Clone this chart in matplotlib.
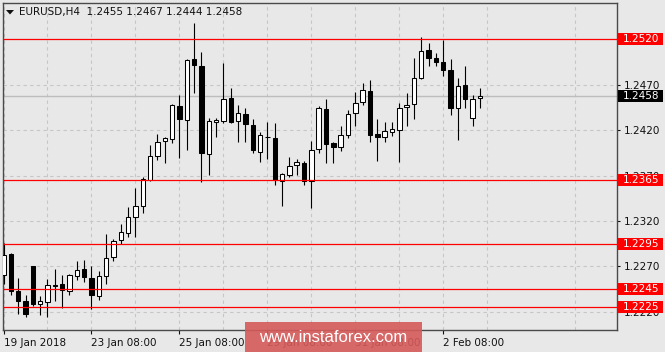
import matplotlib
matplotlib.use("Agg")
import matplotlib.pyplot as plt
import numpy as np
from matplotlib.patches import Rectangle, Polygon
from matplotlib.transforms import blended_transform_factory

# ---------------- data ----------------
symbol = "EURUSD,H4"
opens = [1.2261, 1.2284, 1.2243, 1.2232, 1.2270, 1.2229, 1.2231, 1.2250, 1.2251, 1.2243,
         1.2260, 1.2267, 1.2257, 1.2238, 1.2260, 1.2280, 1.2299, 1.2307, 1.2325, 1.2337,
         1.2365, 1.2392, 1.2408, 1.2410, 1.2447, 1.2431, 1.2498, 1.2491, 1.2394, 1.2429,
         1.2430, 1.2455, 1.2430, 1.2438, 1.2426, 1.2396, 1.2413, 1.2411, 1.2364, 1.2371,
         1.2382, 1.2384, 1.2364, 1.2399, 1.2443, 1.2406, 1.2401, 1.2415, 1.2439, 1.2451,
         1.2463, 1.2416, 1.2412, 1.2418, 1.2420, 1.2446, 1.2449, 1.2477, 1.2508, 1.2499,
         1.2495, 1.2486, 1.2444, 1.2470, 1.2434, 1.2455]
highs = [1.2296, 1.2285, 1.2257, 1.2239, 1.2271, 1.2238, 1.2256, 1.2267, 1.2261, 1.2262,
         1.2276, 1.2277, 1.2271, 1.2265, 1.2306, 1.2300, 1.2317, 1.2335, 1.2356, 1.2369,
         1.2404, 1.2416, 1.2412, 1.2449, 1.2459, 1.2498, 1.2538, 1.2506, 1.2433, 1.2433,
         1.2494, 1.2467, 1.2448, 1.2445, 1.2432, 1.2418, 1.2429, 1.2428, 1.2373, 1.2390,
         1.2388, 1.2386, 1.2408, 1.2447, 1.2454, 1.2407, 1.2425, 1.2442, 1.2462, 1.2472,
         1.2475, 1.2432, 1.2429, 1.2429, 1.2450, 1.2461, 1.2499, 1.2523, 1.2516, 1.2505,
         1.2519, 1.2498, 1.2477, 1.2491, 1.2459, 1.2467]
lows = [1.2251, 1.2239, 1.2218, 1.2214, 1.2226, 1.2217, 1.2214, 1.2232, 1.2224, 1.2239,
        1.2255, 1.2253, 1.2223, 1.2233, 1.2251, 1.2276, 1.2295, 1.2302, 1.2303, 1.2329,
        1.2364, 1.2387, 1.2384, 1.2406, 1.2389, 1.2398, 1.2461, 1.2363, 1.2371, 1.2412,
        1.2428, 1.2428, 1.2407, 1.2407, 1.2395, 1.2385, 1.2388, 1.2360, 1.2337, 1.2368,
        1.2371, 1.2360, 1.2334, 1.2395, 1.2384, 1.2384, 1.2397, 1.2411, 1.2425, 1.2448,
        1.2407, 1.2386, 1.2407, 1.2414, 1.2385, 1.2425, 1.2432, 1.2476, 1.2491, 1.2491,
        1.2480, 1.2437, 1.2409, 1.2445, 1.2425, 1.2444]
closes = [1.2283, 1.2243, 1.2232, 1.2218, 1.2229, 1.2232, 1.2250, 1.2249, 1.2244, 1.2261,
          1.2266, 1.2258, 1.2239, 1.2259, 1.2279, 1.2298, 1.2308, 1.2324, 1.2337, 1.2366,
          1.2392, 1.2407, 1.2411, 1.2448, 1.2432, 1.2497, 1.2492, 1.2395, 1.2430, 1.2431,
          1.2454, 1.2429, 1.2439, 1.2427, 1.2398, 1.2415, 1.2412, 1.2365, 1.2372, 1.2381,
          1.2385, 1.2364, 1.2398, 1.2444, 1.2405, 1.2402, 1.2415, 1.2438, 1.2450, 1.2464,
          1.2415, 1.2413, 1.2419, 1.2421, 1.2445, 1.2448, 1.2478, 1.2507, 1.2499, 1.2495,
          1.2486, 1.2444, 1.2469, 1.2454, 1.2454, 1.2458]

xtick_pos = [0, 12, 24, 36, 48, 60]
xtick_labels = ["19 Jan 2018", "23 Jan 08:00", "25 Jan 08:00",
                "29 Jan 08:00", "31 Jan 08:00", "2 Feb 08:00"]
ytick_vals = [1.2220, 1.2270, 1.2320, 1.2370, 1.2420, 1.2470, 1.2520]
levels = [1.2520, 1.2365, 1.2295, 1.2245, 1.2225]
last_price = 1.2458
watermark = "www.instaforex.com"

# ---------------- figure ----------------
W, H = 665, 352
BG = "#e8e8e8"
FONT = "DejaVu Sans"
plt.rcParams["font.family"] = FONT

fig = plt.figure(figsize=(W / 100, H / 100), dpi=100, facecolor=BG)
ax = fig.add_axes([3 / W, 1 - 330 / H, 614 / W, 327.5 / H])
ax.set_facecolor(BG)

n = len(opens)
x = np.arange(n)
o = np.array(opens); c = np.array(closes)
hi = np.array(highs); lo = np.array(lows)
bull = c >= o

ax.vlines(x, lo, hi, color="black", lw=0.8, zorder=3)
ax.bar(x, np.abs(c - o), bottom=np.minimum(o, c), width=0.6,
       color=np.where(bull, "white", "black"), edgecolor="black",
       linewidth=0.75, zorder=3.5)

ax.set_xlim(-0.07, 83.7)
ax.set_ylim(1.22001, 1.25606)

# grid
ax.set_yticks(ytick_vals)
ax.set_yticklabels([f"{v:.4f}" for v in ytick_vals])
ax.set_xticks(xtick_pos)
ax.set_xticklabels(xtick_labels)
ax.set_xticks(np.arange(6, 84, 12), minor=True)
ax.grid(True, which="both", axis="both", ls=(0, (3, 3)), color="#c6c6c6", lw=0.8, zorder=0)
ax.set_axisbelow(True)

ax.yaxis.tick_right()
ax.tick_params(axis="y", which="major", direction="out", length=2.5, width=0.8,
               pad=2.5, labelsize=7.5, colors="#111111")
ax.tick_params(axis="x", which="major", direction="out", length=3, width=0.8,
               pad=2.5, labelsize=7.5, colors="#111111")
ax.tick_params(axis="x", which="minor", length=0)
for lab in ax.get_xticklabels():
    lab.set_horizontalalignment("left")

for sp in ax.spines.values():
    sp.set_color("#4a4a4a")
    sp.set_linewidth(1.0)

# bid line
ax.axhline(last_price, color="#bdbdbd", lw=1.0, zorder=1)

# red levels
trans = blended_transform_factory(ax.transAxes, ax.transData)
box_w = 45 / 614
box_h = 12 / 9085
for lv in levels:
    ax.axhline(lv, color="#ff0000", lw=0.9, zorder=4)
    ax.add_patch(Rectangle((1.0 + 1.5 / 614, lv - box_h / 2), box_w, box_h,
                           transform=trans, facecolor="#ff0000", edgecolor="none",
                           clip_on=False, zorder=6))
    ax.text(1.0 + 6 / 614, lv, f"{lv:.4f}", transform=trans, color="white",
            fontsize=7.5, va="center", ha="left", clip_on=False, zorder=7)

ax.add_patch(Rectangle((1.0 + 1.5 / 614, last_price - box_h / 2), box_w, box_h,
                       transform=trans, facecolor="black", edgecolor="none",
                       clip_on=False, zorder=6))
ax.text(1.0 + 6 / 614, last_price, f"{last_price:.4f}", transform=trans, color="white",
        fontsize=7.5, va="center", ha="left", clip_on=False, zorder=7)

# title
fig.add_artist(Polygon([[6 / W, 1 - 10 / H], [14 / W, 1 - 10 / H], [10 / W, 1 - 14.5 / H]],
                       closed=True, transform=fig.transFigure, facecolor="#111111",
                       edgecolor="none"))
title = f"{symbol}  {opens[-1]:.4f} {highs[-1]:.4f} {lows[-1]:.4f} {closes[-1]:.4f}"
fig.text(19 / W, 1 - 12 / H, title, fontsize=7.5, color="#111111", va="center", ha="left")

# watermark
fig.add_artist(Rectangle((245 / W, 0), 177 / W, 30 / H, transform=fig.transFigure,
                         facecolor="#d65a5a", edgecolor="none", alpha=0.9, zorder=10))
fig.text(333.5 / W, 15 / H, watermark, fontsize=12, color="white", family="Liberation Sans",
         ha="center", va="center", zorder=11)

fig.savefig("out.png", dpi=100, facecolor=BG)
